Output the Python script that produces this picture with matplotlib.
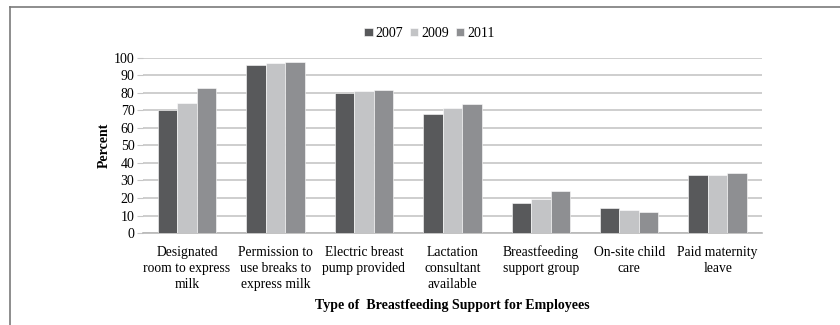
import numpy as np
import matplotlib
matplotlib.use("Agg")
import matplotlib.pyplot as plt
from matplotlib.lines import Line2D

plt.rcParams['font.family'] = ['Liberation Serif', 'DejaVu Serif']

categories = ["Designated\nroom to express\nmilk",
              "Permission to\nuse breaks to\nexpress milk",
              "Electric breast\npump provided",
              "Lactation\nconsultant\navailable",
              "Breastfeeding\nsupport group",
              "On-site child\ncare",
              "Paid maternity\nleave"]
years = ["2007", "2009", "2011"]
v2007 = [70.5, 95.8, 80.0, 68.0, 17.3, 14.1, 33.1]
v2009 = [74.1, 96.8, 81.1, 71.4, 19.6, 13.1, 33.1]
v2011 = [82.9, 97.7, 81.7, 73.7, 23.8, 12.0, 34.5]
colors = ["#58595b", "#c3c4c6", "#8e8f92"]

fig = plt.figure(figsize=(8.4, 3.25), dpi=100)
ax = fig.add_axes([0.170, 0.283, 0.737, 0.539])

x = np.arange(len(categories))
w = 0.22
for i, (vals, c, lab) in enumerate(zip([v2007, v2009, v2011], colors, years)):
    ax.bar(x + (i - 1) * w, vals, w, color=c, edgecolor="white", linewidth=0.4,
           label=lab, zorder=3)

ax.set_xlim(-0.5, len(categories) - 0.5)
ax.set_ylim(0, 100)
ax.set_yticks(range(0, 101, 10))
ax.yaxis.grid(True, color="#c6c6c6", linewidth=1.2, zorder=0)
ax.set_axisbelow(True)
for s in ["left", "right", "top"]:
    ax.spines[s].set_visible(False)
ax.spines["bottom"].set_color("#b8b8b8")
ax.spines["bottom"].set_linewidth(1.2)
ax.tick_params(axis="y", length=4, color="#c6c6c6", labelsize=10, pad=2)
ax.tick_params(axis="x", length=0, labelsize=9.8, pad=9)
ax.set_xticks(x)
ax.set_xticklabels(categories, linespacing=1.3)

ax.set_ylabel("Percent", fontweight="bold", fontsize=10, labelpad=2)
ax.set_xlabel("Type of  Breastfeeding Support for Employees", fontweight="bold",
              fontsize=10, labelpad=6)

ax.legend(loc="center", bbox_to_anchor=(0.463, 1.14), ncol=3, frameon=False,
          fontsize=10, handlelength=0.6, handleheight=0.6, handletextpad=0.2,
          columnspacing=0.5)

# partial outer frame (top and left edges)
fig.add_artist(Line2D([0.012, 1.0], [0.978, 0.978], color="#7a7a7a", linewidth=1.2,
                      transform=fig.transFigure))
fig.add_artist(Line2D([0.012, 0.012], [0.0, 0.978], color="#7a7a7a", linewidth=1.2,
                      transform=fig.transFigure))

fig.savefig("out.png", dpi=100)
